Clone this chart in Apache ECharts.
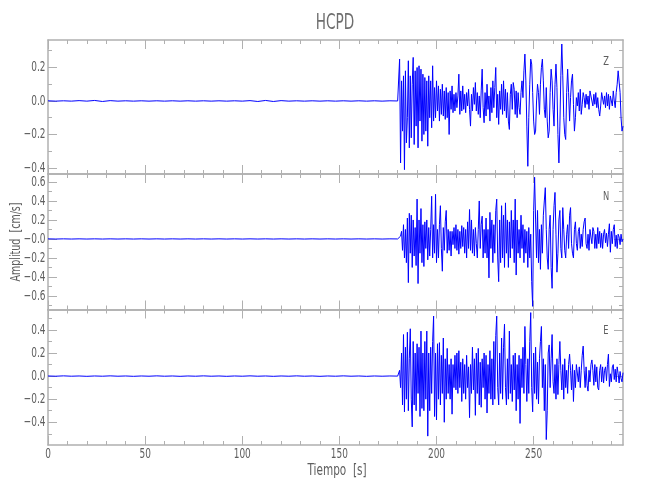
<!DOCTYPE html>
<html>
<head>
<meta charset="utf-8">
<script src="https://cdn.jsdelivr.net/npm/echarts@6/dist/echarts.min.js"></script>
<style>html,body{margin:0;padding:0;background:#fff}#c{width:650px;height:500px}</style>
</head>
<body>
<div id="c"></div>
<script>
// ---- sampling ----
const T_PRE0 = 0, DT_PRE = 4;     // pre-event samples (s)
const T_ACT0 = 180, DT_ACT = 0.5; // event samples (s)

// ---- Z component ----
const zPre = [0.001,-0.001,0.001,-0.001,0.002,-0.001,0.003,-0.003,0.002,-0.001,
0.001,-0.001,0.001,-0.001,0.001,-0.001,0.001,-0.001,0.001,-0.001,
0.001,-0.001,0.001,-0.001,0.001,-0.001,0.002,-0.003,0.003,-0.003,
0.002,-0.001,0.001,-0.001,0.001,-0.001,0.001,-0.001,0.001,-0.001,
0.001,-0.001,0.001,-0.001,0.001];
const zAct = [0.00,0.01,0.25,-0.37,0.12,-0.18,0.15,-0.41,0.18,-0.25,
-0.10,0.24,-0.28,0.15,-0.22,0.10,0.26,-0.26,0.18,-0.15,
0.20,-0.28,0.21,-0.12,0.19,-0.24,0.16,-0.20,0.14,-0.18,
0.12,-0.27,0.15,-0.10,0.12,-0.16,0.21,-0.12,0.08,-0.10,
0.12,-0.06,0.09,-0.12,0.07,-0.08,0.10,-0.09,0.06,-0.11,
0.08,-0.10,0.05,-0.20,0.06,-0.05,0.09,-0.07,0.04,-0.06,
0.05,-0.04,0.03,0.16,-0.08,0.06,-0.06,0.09,-0.05,0.04,
-0.07,0.05,-0.03,0.07,-0.05,-0.15,0.04,-0.06,0.08,-0.02,
0.11,-0.06,0.05,-0.08,0.03,-0.10,0.06,0.19,-0.04,-0.13,
0.05,-0.09,0.10,-0.05,0.03,-0.12,0.08,-0.07,0.12,-0.04,
0.08,0.20,-0.10,0.04,-0.14,0.06,-0.05,0.10,-0.08,0.12,
-0.06,0.07,-0.10,0.05,-0.12,-0.17,0.04,0.10,-0.05,0.11,
0.07,-0.08,0.06,-0.10,0.05,-0.04,-0.08,0.05,0.12,0.02,
0.18,0.28,0.12,-0.15,-0.39,-0.10,0.10,0.25,0.22,0.05,
-0.12,-0.20,-0.18,0.00,0.10,0.05,-0.08,0.10,0.20,0.25,
0.12,-0.05,-0.10,0.08,-0.12,-0.22,-0.18,0.05,0.19,0.12,
-0.05,-0.15,0.10,0.22,0.08,-0.20,-0.37,-0.15,0.15,0.34,
0.15,-0.10,-0.20,-0.23,0.05,0.19,0.05,-0.12,0.02,0.12,
0.16,-0.02,-0.18,-0.10,0.02,-0.03,0.05,-0.06,0.07,-0.08,
-0.02,0.05,0.02,-0.04,0.04,-0.02,0.03,-0.05,0.06,0.05,
0.00,-0.03,0.04,-0.02,0.05,-0.04,0.02,-0.05,-0.09,-0.03,
0.05,0.06,-0.02,0.03,-0.04,0.05,-0.03,0.04,-0.05,0.03,
0.02,-0.03,0.06,0.00,-0.04,0.05,0.10,0.18,0.19,0.05,
-0.10,-0.18,-0.15];

// ---- N component ----
const nPre = [0.001,-0.001,0.001,-0.001,0.001,-0.001,0.001,-0.001,0.001,-0.001,
0.001,-0.001,0.001,-0.001,0.001,-0.001,0.001,-0.001,0.001,-0.001,
0.001,-0.001,0.001,-0.001,0.001,-0.001,0.001,-0.001,0.001,-0.001,
0.001,-0.001,0.001,-0.001,0.001,-0.001,0.001,-0.001,0.001,-0.001,
0.001,-0.001,0.001,-0.001,0.001];
const nAct = [0.00,0.00,0.01,0.03,0.08,-0.12,0.15,-0.20,0.10,-0.25,
0.22,-0.46,0.27,-0.15,0.25,-0.30,0.20,-0.18,0.12,-0.28,
0.42,-0.47,0.20,-0.15,0.32,-0.25,0.15,-0.29,0.18,-0.10,
0.20,-0.22,0.12,-0.18,0.10,0.45,-0.20,0.15,-0.15,0.47,
-0.25,0.10,-0.20,0.15,0.35,-0.10,-0.34,0.12,-0.12,0.18,
0.30,-0.15,0.10,-0.12,0.08,-0.18,0.08,-0.06,0.12,-0.10,
0.15,-0.12,0.10,-0.16,0.08,-0.10,0.14,-0.08,0.12,-0.15,
0.10,-0.20,0.18,-0.10,0.31,-0.12,0.20,-0.15,0.10,-0.18,
0.12,-0.05,-0.20,0.10,0.40,-0.10,0.15,0.24,-0.20,0.10,
-0.15,0.22,-0.20,0.10,-0.41,0.28,-0.10,0.20,-0.25,0.15,
-0.15,0.30,0.42,-0.20,-0.45,0.20,-0.25,0.35,-0.20,0.25,
-0.30,0.38,-0.15,0.20,-0.30,0.18,-0.20,0.30,-0.10,0.20,
-0.25,0.42,-0.38,0.20,-0.15,0.10,-0.20,0.25,-0.10,0.15,
-0.25,0.10,-0.15,0.08,-0.30,0.12,-0.20,0.05,-0.45,-0.71,
0.30,0.65,0.20,-0.20,0.30,-0.25,0.10,-0.32,0.15,-0.15,
0.25,0.40,0.54,0.10,-0.20,-0.32,0.10,0.25,-0.30,-0.52,
0.10,0.35,0.49,0.05,-0.35,-0.15,0.20,0.30,-0.10,-0.20,
0.33,0.10,-0.12,-0.20,0.05,0.15,-0.10,0.25,0.33,-0.05,
-0.15,-0.20,0.10,0.18,-0.05,-0.12,0.08,0.12,-0.10,0.05,
-0.08,0.10,0.18,0.22,-0.05,-0.10,0.05,-0.12,0.10,0.02,
-0.05,0.12,0.08,-0.10,0.05,-0.10,0.12,-0.05,0.08,-0.09,
0.06,-0.10,0.05,0.10,-0.04,0.06,-0.08,0.05,0.16,-0.14,
0.08,-0.05,0.10,0.15,-0.08,0.04,-0.10,0.05,0.02,-0.06,
0.05,-0.03,0.00];

// ---- E component ----
const ePre = [0.001,-0.001,0.002,-0.001,0.001,-0.002,0.001,-0.001,0.002,-0.001,
0.001,-0.002,0.001,-0.001,0.002,-0.001,0.001,-0.002,0.001,-0.001,
0.002,-0.001,0.001,-0.002,0.001,-0.001,0.002,-0.001,0.001,-0.002,
0.001,-0.001,0.002,-0.001,0.001,-0.002,0.001,-0.001,0.002,-0.001,
0.001,-0.002,0.001,-0.001,0.001];
const eAct = [0.00,0.00,0.05,-0.10,0.20,-0.25,0.36,-0.31,0.25,-0.20,
0.38,-0.30,0.15,0.41,-0.20,-0.44,0.30,-0.25,0.20,-0.30,
0.28,-0.15,0.25,-0.35,0.39,-0.28,0.20,-0.30,0.30,-0.20,
0.39,-0.52,0.20,-0.30,0.25,-0.15,0.30,0.52,-0.35,0.20,
-0.38,0.28,-0.20,0.29,-0.25,0.18,-0.15,0.33,-0.40,0.15,
-0.20,0.24,-0.15,0.10,-0.20,0.15,-0.33,0.10,-0.10,0.18,
-0.12,0.20,-0.15,0.22,-0.10,0.12,-0.22,0.15,-0.15,0.10,
-0.20,0.18,-0.10,0.08,-0.36,0.10,-0.15,0.25,-0.12,0.15,
-0.34,0.20,-0.15,0.24,-0.25,0.12,-0.27,0.15,-0.10,0.20,
-0.20,0.18,-0.32,0.10,-0.15,0.22,-0.20,0.15,-0.25,0.30,
-0.20,0.35,0.52,-0.10,-0.25,0.20,-0.15,0.33,-0.20,0.25,
0.45,-0.10,-0.25,0.15,-0.20,0.39,-0.15,0.10,-0.22,0.18,
-0.12,0.20,-0.30,0.10,-0.20,0.18,-0.41,0.15,-0.10,0.25,
-0.15,0.43,0.10,-0.22,0.15,-0.15,0.30,0.55,-0.10,-0.31,
0.20,-0.15,0.25,-0.20,0.12,-0.24,0.15,0.30,0.43,-0.10,
0.15,-0.30,0.10,-0.55,-0.30,0.20,0.27,-0.10,0.15,0.36,
-0.05,-0.15,0.10,-0.20,0.15,-0.16,0.10,0.30,0.05,-0.12,
0.10,-0.20,0.15,-0.10,0.05,-0.15,0.10,0.19,0.05,-0.12,
0.10,-0.22,0.05,-0.10,0.10,0.10,-0.05,0.08,-0.10,0.05,
0.18,0.26,0.05,-0.10,0.08,-0.08,-0.13,0.05,-0.05,0.10,
0.14,0.05,-0.08,0.10,-0.05,0.08,-0.10,-0.12,0.05,0.10,
-0.05,0.08,-0.06,0.05,0.08,-0.04,0.10,0.19,-0.09,0.02,
-0.05,0.08,0.10,-0.03,0.06,-0.05,0.08,0.02,-0.06,0.04,
-0.02,-0.05,0.03];

// ---- ticks / labels ----
const xMajor = [0,50,100,150,200,250];
const xLabels = ['0','50','100','150','200','250'];
const xMinor = [10,20,30,40,60,70,80,90,110,120,130,140,160,170,180,190,210,220,230,240,260,270,280,290];
const yMajorZ = [0.2,0,-0.2,-0.4];
const yLabelsZ = ['0.2','0.0','\u22120.2','\u22120.4'];
const yMinorZ = [0.3,0.1,-0.1,-0.3];
const yMajorN = [0.6,0.4,0.2,0,-0.2,-0.4,-0.6];
const yLabelsN = ['0.6','0.4','0.2','\u22120.0','\u22120.2','\u22120.4','\u22120.6'];
const yMinorN = [0.5,0.3,0.1,-0.1,-0.3,-0.5,-0.7];
const yMajorE = [0.4,0.2,0,-0.2,-0.4];
const yLabelsE = ['0.4','0.2','0.0','\u22120.2','\u22120.4'];
const yMinorE = [0.5,0.3,0.1,-0.1,-0.3,-0.5];
const compNames = ['Z','N','E'];
const titleText = 'HCPD';
const xName = 'Tiempo  [s]';
const yName = 'Amplitud  [cm/s]';

function build(pre, act) {
  const d = [];
  pre.forEach((v, i) => d.push([T_PRE0 + i * DT_PRE, v]));
  act.forEach((v, i) => d.push([T_ACT0 + i * DT_ACT, v]));
  return d;
}

const AXC = '#b0b0b0', TXC = '#5e5e5e';
const FONT = "'DejaVu Sans', sans-serif";
const NARROW = 0.64; // horizontal squeeze to mimic the narrow plot font
const XMAX = 296;

const panels = [
  {top:40, height:134, min:-0.436, max:0.364, major:yMajorZ, labels:yLabelsZ, minor:yMinorZ, data:build(zPre,zAct), lx:606, ly:62},
  {top:174, height:135.5, min:-0.743, max:0.684, major:yMajorN, labels:yLabelsN, minor:yMinorN, data:build(nPre,nAct), lx:606, ly:197},
  {top:309.5, height:135.5, min:-0.597, max:0.577, major:yMajorE, labels:yLabelsE, minor:yMinorE, data:build(ePre,eAct), lx:606, ly:331}
];

const grid = [], xAxis = [], yAxis = [], series = [];
panels.forEach((p, i) => {
  grid.push({left:48, right:27, top:p.top, height:p.height});
  const xa = (pos, ticks, len, line) => ({
    type:'value', gridIndex:i, position:pos, min:0, max:XMAX,
    axisLine:{show:line, onZero:false, lineStyle:{color:AXC, width:1.5}},
    axisTick:{show:true, inside:true, length:len, customValues:ticks, lineStyle:{color:AXC, width:1}},
    axisLabel:{show:false}, splitLine:{show:false}
  });
  xAxis.push(xa('bottom', xMajor, 9, true));
  xAxis.push(xa('bottom', xMinor, 4, false));
  xAxis.push(xa('top', xMajor, 9, true));
  xAxis.push(xa('top', xMinor, 4, false));
  const ya = (pos, ticks, len, line) => ({
    type:'value', gridIndex:i, position:pos, min:p.min, max:p.max,
    axisLine:{show:line, onZero:false, lineStyle:{color:AXC, width:1.5}},
    axisTick:{show:true, inside:true, length:len, customValues:ticks, lineStyle:{color:AXC, width:1}},
    axisLabel:{show:false}, splitLine:{show:false}
  });
  yAxis.push(ya('left', p.major, 9, true));
  yAxis.push(ya('left', p.minor, 4, false));
  yAxis.push(ya('right', p.major, 9, true));
  yAxis.push(ya('right', p.minor, 4, false));
  series.push({
    type:'line', xAxisIndex:4*i, yAxisIndex:4*i, data:p.data,
    showSymbol:false, symbol:'none', silent:true, animation:false,
    lineStyle:{color:'#0000ff', width:1}
  });
});

const chart = echarts.init(document.getElementById('c'), null, {renderer:'canvas'});
chart.setOption({animation:false, backgroundColor:'#fff', grid, xAxis, yAxis, series});

// tick labels placed through the axes' own scales (narrow text)
const graphic = [];
const txt = (x, y, s, size, align, extra) => Object.assign({
  type:'text', x, y, scaleX:NARROW, silent:true,
  style:{text:s, fill:TXC, font:size + 'px ' + FONT, textAlign:align, textVerticalAlign:'middle'}
}, extra || {});
panels.forEach((p, i) => {
  p.major.forEach((v, k) => {
    const pt = chart.convertToPixel({xAxisIndex:4*i, yAxisIndex:4*i}, [0, v]);
    graphic.push(txt(pt[0] - 2.5, pt[1], p.labels[k], 14, 'right'));
  });
  graphic.push(txt(p.lx, p.ly, compNames[i], 13, 'center'));
});
xMajor.forEach((v, k) => {
  const pt = chart.convertToPixel({xAxisIndex:8, yAxisIndex:8}, [v, panels[2].min]);
  graphic.push(txt(pt[0], pt[1] + 9.5, xLabels[k], 14, 'center'));
});
const t = txt(335, 23, titleText, 22, 'center'); t.style.fill = '#6e6e6e'; t.scaleX = 0.62;
graphic.push(t);
graphic.push(txt(337, 471, xName, 15, 'center', {scaleX:0.7}));
graphic.push(txt(16, 242, yName, 14, 'center', {rotation:Math.PI/2, scaleX:0.68}));
chart.setOption({graphic});
</script>
</body>
</html>
